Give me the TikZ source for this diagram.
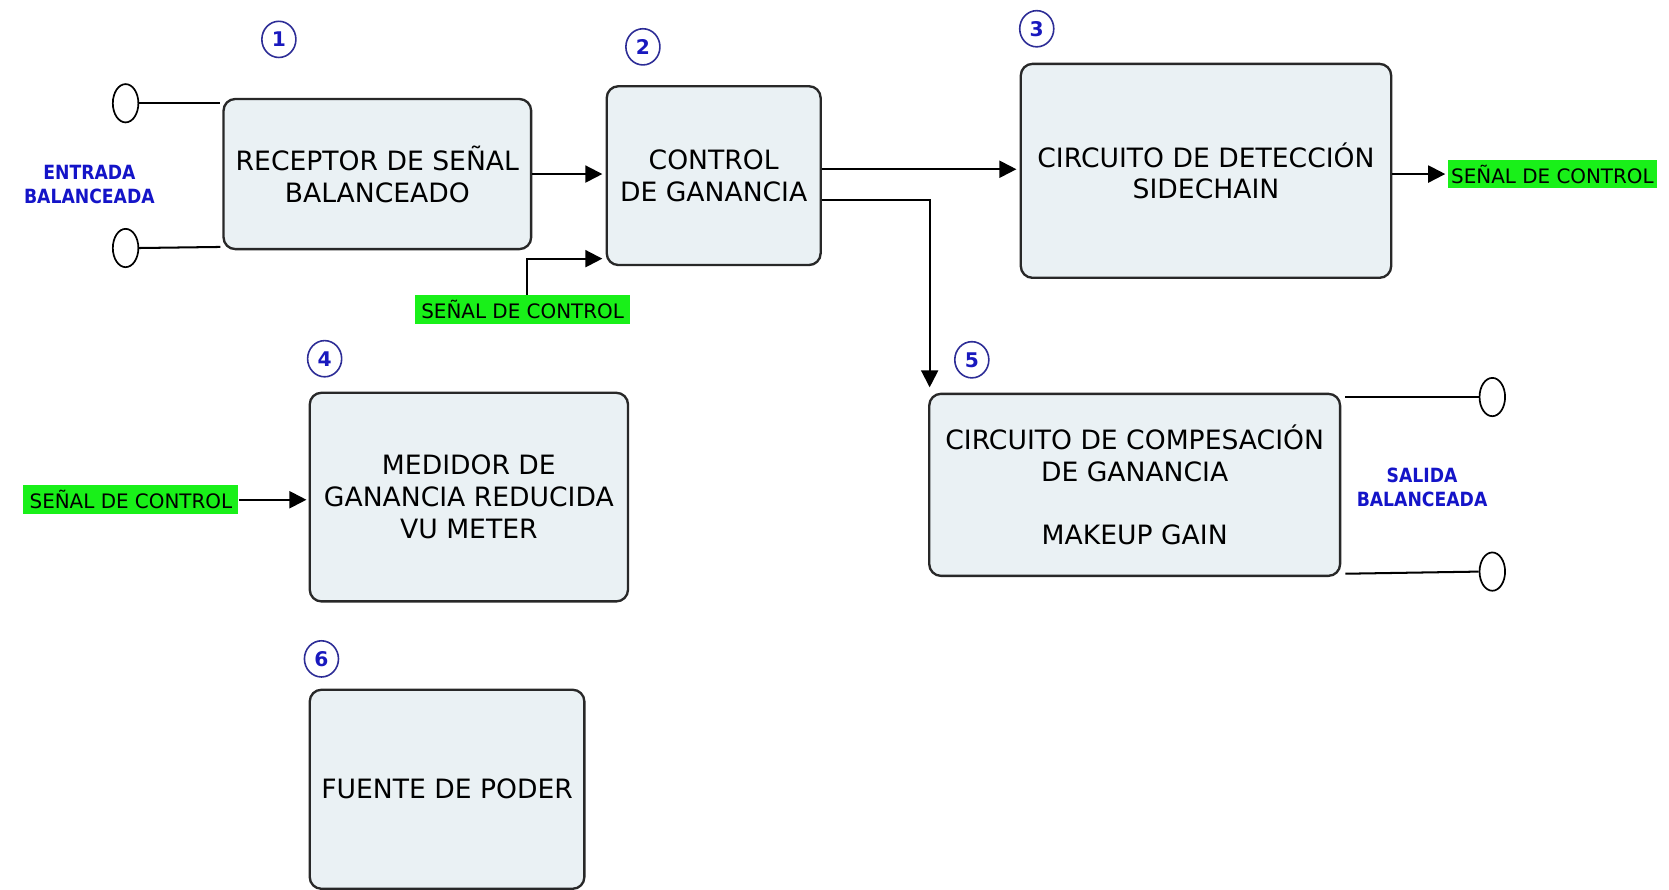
\documentclass[tikz,border=0pt]{standalone}
\usepackage{fontspec}
\setmainfont{DejaVu Sans}
\usetikzlibrary{shapes.geometric,arrows.meta,calc}
\definecolor{boxfill}{RGB}{234,241,244}
\definecolor{boxline}{RGB}{40,40,40}
\definecolor{sigbg}{RGB}{25,240,25}
\definecolor{numblue}{RGB}{25,25,190}
\definecolor{numring}{RGB}{45,45,150}
\definecolor{lblblue}{RGB}{20,20,200}
\newcommand{\narrowtxt}[1]{\scalebox{0.88}[1]{#1}}
\tikzset{
  blk/.style={draw=boxline, fill=boxfill, line width=2.2pt, rounded corners=11pt,
    align=center, font=\fontsize{25}{30}\selectfont, inner sep=0pt},
  sig/.style={fill=sigbg, inner sep=0pt, minimum height=27pt,
    font=\fontsize{18.7}{22}\selectfont},
  num/.style={ellipse, draw=numring, line width=1.5pt, minimum width=32pt,
    minimum height=34pt, inner sep=0pt, text=numblue, font=\bfseries\fontsize{19}{20}\selectfont},
  jack/.style={ellipse, draw=black, line width=1.6pt, minimum width=24pt,
    minimum height=36pt, inner sep=0pt},
  io/.style={text=lblblue, align=center, font=\bfseries\fontsize{18.4}{23}\selectfont},
  wire/.style={line width=1.9pt, draw=black},
  arr/.style={wire, -{Triangle[length=16pt,width=16pt]}}
}
\begin{document}
\begin{tikzpicture}[x=1pt,y=-1pt]
\useasboundingbox (0,0) rectangle (1568,836);

% blocks
\node[blk, minimum width=289pt, minimum height=141pt] (b1) at (354.5,163.5) {RECEPTOR DE SEÑAL\\BALANCEADO};
\node[blk, minimum width=201pt, minimum height=168pt] (b2) at (670.5,165) {CONTROL\\DE GANANCIA};
\node[blk, minimum width=348pt, minimum height=201pt] (b3) at (1133,160.5) {CIRCUITO DE DETECCIÓN\\SIDECHAIN};
\node[blk, minimum width=299pt, minimum height=196pt] (b4) at (440.5,467) {MEDIDOR DE\\GANANCIA REDUCIDA\\VU METER};
\node[blk, minimum width=386pt, minimum height=171pt] (b5) at (1066,455.5) {CIRCUITO DE COMPESACIÓN\\DE GANANCIA\\[30pt]MAKEUP GAIN};
\node[blk, minimum width=258pt, minimum height=187pt] (b6) at (420,741.5) {FUENTE DE PODER};

% numbers
\node[num] (n1) at (262,37) {1};
\node[num] (n2) at (604,44) {2};
\node[num] (n3) at (974,27) {3};
\node[num] (n4) at (305,337) {4};
\node[num] (n5) at (913,338) {5};
\node[num] (n6) at (302,619) {6};

% input jacks
\node[jack] (ei1) at (118,97) {};
\node[jack] (ei2) at (118,233) {};
\coordinate (ci1) at (207,97);
\coordinate (ci2) at (207,232);
\draw[wire] (ei1.east) -- (ci1);
\draw[wire] (ei2.east) -- (ci2);
\node[io] (inlbl) at (84,173.5) {\narrowtxt{ENTRADA}\\\narrowtxt{BALANCEADA}};

% output jacks
\node[jack] (eo1) at (1402,373) {};
\node[jack] (eo2) at (1402,537) {};
\coordinate (co1) at (1264,373);
\coordinate (co2) at (1264,539);
\draw[wire] (co1) -- (eo1.west);
\draw[wire] (co2) -- (eo2.west);
\node[io] (outlbl) at (1336,458) {\narrowtxt{SALIDA}\\\narrowtxt{BALANCEADA}};

% control signal labels
\node[sig, minimum width=202pt] (g1) at (491,290.5) {SEÑAL DE CONTROL};
\node[sig, minimum width=197pt] (g2) at (1458.5,163.5) {SEÑAL DE CONTROL};
\node[sig, minimum width=202pt] (g3) at (123,469.5) {SEÑAL DE CONTROL};

% connectors
\coordinate (p23) at ($(b2.east)+(0,-6)$);
\coordinate (p25) at ($(b2.east)+(0,23)$);
\coordinate (p5) at ($(b5.north west)+(1.5,-5)$);
\coordinate (pc2) at ($(b2.west)+(0,78)$);
\draw[arr, shorten >=3pt] (b1.east) -- (b1.east -| b2.west);
\draw[arr, shorten >=3pt] (p23) -- (p23 -| b3.west);
\draw[arr] (p25) -| (p5);
\draw[arr, shorten >=3pt] ([xshift=4pt]g1.north) |- (pc2);
\draw[arr, shorten >=2pt] (b3.east |- g2.west) -- (g2.west);
\draw[arr, shorten >=2pt] (g3.east) -- (g3.east -| b4.west);
\end{tikzpicture}
\end{document}
